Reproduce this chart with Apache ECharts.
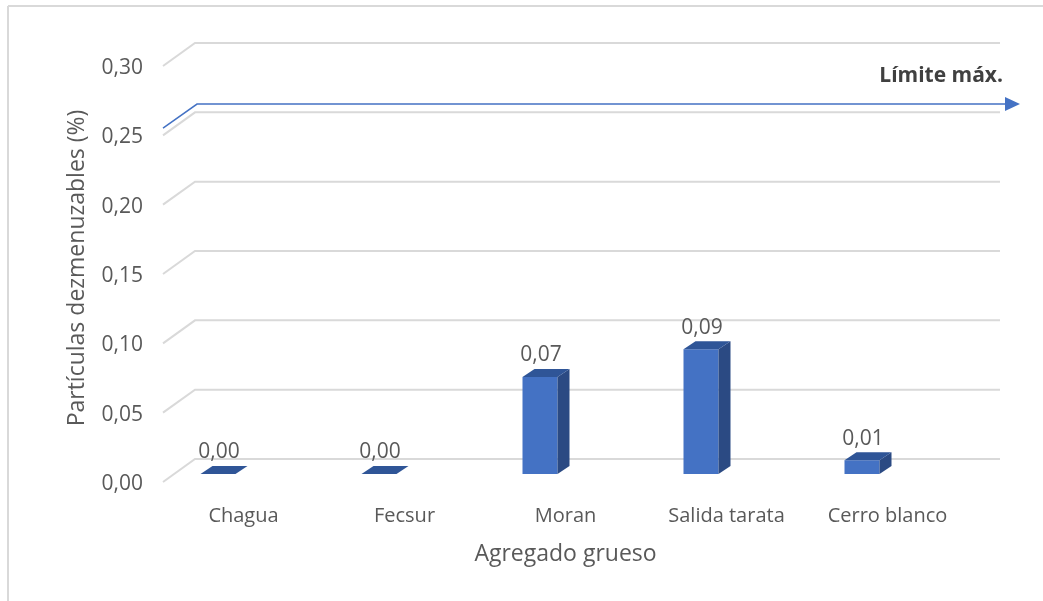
<!DOCTYPE html>
<html>
<head>
<meta charset="utf-8">
<script src="https://cdn.jsdelivr.net/npm/echarts@6/dist/echarts.min.js"></script>
<style>
  html, body { margin: 0; padding: 0; background: #ffffff; }
  #chart { width: 1043px; height: 601px; }
</style>
</head>
<body>
<div id="chart"></div>
<script>
// Friable particles (%) per coarse-aggregate quarry
const categories = ['Chagua', 'Fecsur', 'Moran', 'Salida tarata', 'Cerro blanco'];
const values = [0.00, 0.00, 0.07, 0.09, 0.01];
const yTicks = [0.00, 0.05, 0.10, 0.15, 0.20, 0.25, 0.30];
const limitValue = 0.256;
const limitLabel = 'Límite máx.';
const xTitle = 'Agregado grueso';
const yTitle = 'Partículas dezmenuzables (%)';

const FONT = '"Open Sans", "Noto Sans", sans-serif';
const TEXT = '#595959';
const GRID_LINE = '#d9d9d9';
const FRONT = '#4472c4';
const SIDE = '#2b4a83';
const TOP = '#2f5597';

// perspective: front plane is shifted left/down from the back wall
const DX = -32, DY = 23;

const fmt = v => v.toFixed(2).replace('.', ',');

const chart = echarts.init(document.getElementById('chart'));

chart.setOption({
  backgroundColor: '#ffffff',
  animation: false,
  textStyle: { fontFamily: FONT },
  grid: [
    { left: 195, right: 43, top: 43, bottom: 142 },   // back wall
    { left: 163, right: 75, top: 68, bottom: 117 }    // front plane (labels)
  ],
  xAxis: [
    { type: 'category', data: categories, gridIndex: 0, show: false },
    {
      type: 'category', data: categories, gridIndex: 1,
      axisLine: { show: false }, axisTick: { show: false },
      axisLabel: { color: TEXT, fontSize: 20, margin: 22, fontFamily: FONT },
      name: xTitle, nameLocation: 'middle', nameGap: 59,
      nameTextStyle: { color: TEXT, fontSize: 23, fontFamily: FONT }
    }
  ],
  yAxis: [
    { type: 'value', gridIndex: 0, min: 0, max: 0.3, interval: 0.05, show: false },
    {
      type: 'value', gridIndex: 1, min: 0, max: 0.3, interval: 0.05,
      axisLine: { show: false }, axisTick: { show: false }, splitLine: { show: false },
      axisLabel: { color: TEXT, fontSize: 21, margin: 20, fontFamily: FONT,
        formatter: v => fmt(v) }
    }
  ],
  graphic: [
    { type: 'line', shape: { x1: 8, y1: 6, x2: 1043, y2: 6 },
      style: { stroke: GRID_LINE, lineWidth: 2 }, silent: true },
    { type: 'line', shape: { x1: 8, y1: 6, x2: 8, y2: 601 },
      style: { stroke: GRID_LINE, lineWidth: 2 }, silent: true },
    { type: 'text', x: 77, y: 268, rotation: Math.PI / 2, silent: true,
      style: { text: yTitle, align: 'center', verticalAlign: 'middle',
        fill: TEXT, fontSize: 23, fontFamily: FONT } }
  ],
  series: [
    {
      // gridlines: short diagonal on the floor edge, then along the back wall
      type: 'custom', xAxisIndex: 0, yAxisIndex: 0, silent: true, z: 1,
      data: yTicks.map(v => [0, v]),
      renderItem: (params, api) => {
        const cs = params.coordSys;
        const y = api.coord([0, api.value(1)])[1];
        return {
          type: 'polyline',
          shape: { points: [[cs.x + DX, y + DY], [cs.x, y], [cs.x + cs.width, y]] },
          style: { stroke: GRID_LINE, lineWidth: 2, fill: null }
        };
      }
    },
    {
      // 3D bars with front, side and top faces
      type: 'custom', xAxisIndex: 0, yAxisIndex: 0, z: 3,
      data: values.map((v, i) => [i, v]),
      renderItem: (params, api) => {
        const i = api.value(0), v = api.value(1);
        const base = api.coord([i, 0]);
        const top = api.coord([i, v]);
        const w = 35, dx = 12, dy = -8;
        const x0 = base[0] - 75;
        const yb = base[1] + 15;
        const yt = top[1] + 15;
        const children = [];
        if (yb - yt > 0.5) {
          children.push({ type: 'rect', shape: { x: x0, y: yt, width: w, height: yb - yt },
            style: { fill: FRONT } });
          children.push({ type: 'polygon', shape: { points: [
            [x0 + w, yt], [x0 + w + dx, yt + dy], [x0 + w + dx, yb + dy], [x0 + w, yb]] },
            style: { fill: SIDE } });
        }
        children.push({ type: 'polygon', shape: { points: [
          [x0, yt], [x0 + dx, yt + dy], [x0 + w + dx, yt + dy], [x0 + w, yt]] },
          style: { fill: TOP } });
        children.push({ type: 'text', style: {
          text: fmt(v), x: x0 + w / 2 + 1, y: yt + dy - 3,
          align: 'center', verticalAlign: 'bottom',
          fill: TEXT, fontSize: 21, fontFamily: FONT } });
        return { type: 'group', children };
      }
    },
    {
      // maximum-limit arrow with its caption
      type: 'custom', xAxisIndex: 0, yAxisIndex: 0, silent: true, z: 4,
      data: [[0, limitValue]],
      renderItem: (params, api) => {
        const cs = params.coordSys;
        const y = api.coord([0, api.value(1)])[1];
        const xEnd = cs.x + cs.width + 5;
        return {
          type: 'group',
          children: [
            { type: 'polyline', shape: { points: [[cs.x + DX, y + 24], [cs.x + 2, y], [xEnd, y]] },
              style: { stroke: FRONT, lineWidth: 1.5, fill: null } },
            { type: 'polygon', shape: { points: [[xEnd, y - 7], [xEnd + 15, y], [xEnd, y + 7]] },
              style: { fill: FRONT } },
            { type: 'text', style: {
              text: limitLabel, x: cs.x + cs.width + 3, y: y - 28,
              align: 'right', verticalAlign: 'middle',
              fill: '#404040', fontSize: 21, fontWeight: 'bold', fontFamily: FONT } }
          ]
        };
      }
    }
  ]
});
</script>
</body>
</html>
